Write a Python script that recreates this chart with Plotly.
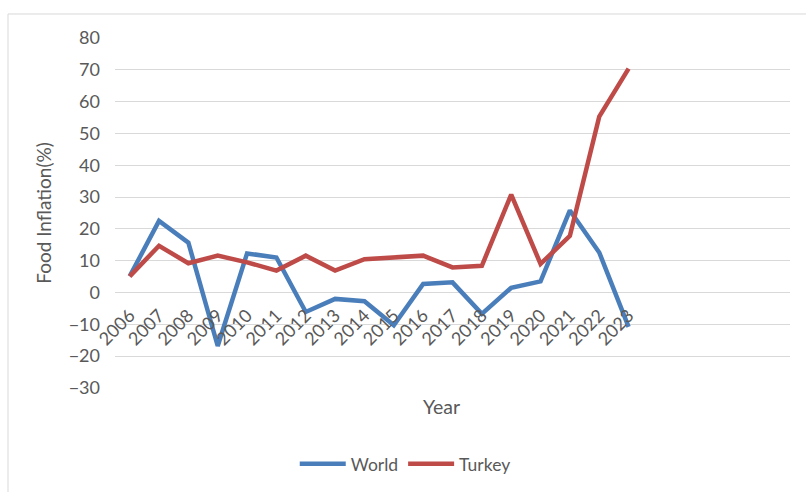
import plotly.graph_objects as go

years = [2006, 2007, 2008, 2009, 2010, 2011, 2012, 2013, 2014, 2015,
         2016, 2017, 2018, 2019, 2020, 2021, 2022, 2023]
world = [5.1, 22.5, 15.7, -16.8, 12.3, 11.0, -6.1, -2.0, -2.7, -10.3,
         2.7, 3.2, -6.7, 1.5, 3.5, 25.8, 12.6, -10.8]
turkey = [5.1, 14.7, 9.2, 11.6, 9.5, 6.9, 11.6, 6.9, 10.5, 11.2,
          11.6, 7.9, 8.4, 30.8, 9.0, 17.8, 55.3, 70.4]
y_ticks = [80, 70, 60, 50, 40, 30, 20, 10, 0, -10, -20, -30]

FONT = "Lato"
GREY = "#595959"

fig = go.Figure()
fig.add_trace(go.Scatter(x=years, y=world, mode="lines", name="World",
                         line=dict(color="#4A7EBB", width=4.5)))
fig.add_trace(go.Scatter(x=years, y=turkey, mode="lines", name="Turkey",
                         line=dict(color="#BE4B48", width=4.5)))

fig.update_layout(
    width=806, height=492,
    margin=dict(l=115, r=16, t=38, b=104, autoexpand=False),
    paper_bgcolor="white", plot_bgcolor="white",
    font=dict(family=FONT, color=GREY, size=18),
    showlegend=True,
    legend=dict(orientation="h", x=0.43, xanchor="center", y=-0.217, yanchor="middle",
                font=dict(size=17.5, color=GREY), itemwidth=46, tracegroupgap=0),
    xaxis=dict(
        range=[2005.5, 2028.5], tickmode="array", tickvals=years,
        ticktext=[str(y) for y in years], tickangle=-45,
        showgrid=False, zeroline=False, showline=False,
        anchor="free", position=30 / 110, automargin=False,
        ticklabelstandoff=8,
        tickfont=dict(size=18, color=GREY),
    ),
    yaxis=dict(
        range=[-30, 80], tickmode="array", tickvals=y_ticks,
        showgrid=True, gridcolor="#D9D9D9", gridwidth=1,
        zeroline=False, showline=False, automargin=False,
        ticklabelstandoff=14,
        tickfont=dict(size=18, color=GREY),
        title=dict(text="Food Inflation(%)", font=dict(size=19, color=GREY), standoff=12),
    ),
    annotations=[dict(text="Year", xref="paper", yref="paper", x=0.483, y=-0.054,
                      showarrow=False, font=dict(size=19.5, color=GREY),
                      xanchor="center", yanchor="middle")],
    shapes=[dict(type="rect", xref="paper", yref="paper",
                 x0=-0.1585, x1=1.1, y0=-0.5, y1=1.0686,
                 line=dict(color="#D9D9D9", width=1), layer="below")],
)

fig.write_html("out.html")
